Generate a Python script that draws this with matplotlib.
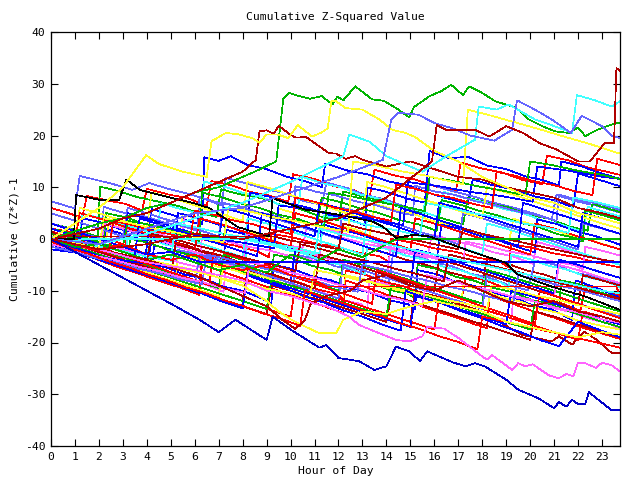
import matplotlib
matplotlib.use("Agg")
import matplotlib.pyplot as plt

# colour keys used by the series below
COLORS = {
    "R": "#ff0000", "G": "#00b400", "B": "#0000ff", "LB": "#6464ff",
    "M": "#ff64ff", "C": "#40ffff", "Y": "#ffff30", "DR": "#b00000",
    "K": "#000000", "DB": "#0000c8",
}

# each series: (colour key, hours, cumulative value)
series = [
    ("R", [0,0.6,1.3,1.5,2.4,3.1,3.8,4.0,4.9,5.7,6.5,6.7,7.6,8.3,9.1,9.9,10.1,11.0,11.8,12.6,13.3,13.5,14.4,15.2,16.1,16.9,17.1,18.0,18.8,19.7,20.5,20.7,21.6,22.4,23.1,23.75],
          [6,5.2,4.1,8.3,7.4,6.8,5.5,9.7,8.6,7.9,6.4,11.2,10.3,9.1,8.4,7.2,12.5,11.6,10.2,9.5,8.1,13.4,12.2,11.5,10.1,9.2,14.8,13.6,12.9,11.4,10.6,16.1,15.2,13.8,13.1,12.4]),
    ("B", [0,0.7,1.5,2.1,2.3,3.2,4.0,4.2,5.1,5.9,6.3,6.4,7.0,7.5,8.2,9.0,9.8,10.6,11.3,11.45,12.4,13.2,14.1,14.9,15.7,16.5,17.4,17.6,18.5,19.3,20.2,21.0,21.8,22.0,22.9,23.75],
          [0,-1.3,-2.8,-3.6,1.9,0.7,-0.4,5.8,4.6,3.2,2.8,15.8,15.1,16.0,14.3,13.5,12.1,11.2,10.0,14.6,13.2,12.5,11.1,10.4,9.0,7.9,6.8,11.5,10.3,9.6,8.2,7.5,6.1,12.7,11.4,10.2]),
    ("LB", [0,0.5,1.0,1.2,1.9,2.6,3.4,4.1,4.9,5.6,6.4,7.1,7.3,8.2,9.0,9.8,10.5,11.3,11.5,12.4,13.1,13.9,14.8,15.6,15.8,16.7,17.5,18.4,19.2,20.1,20.9,21.1,22.0,22.8,23.75],
           [7.3,6.6,5.9,12.2,11.4,10.6,9.5,10.8,9.7,8.9,7.8,6.5,11.8,10.7,9.6,8.8,7.4,6.6,10.9,9.8,8.5,7.7,6.2,5.4,10.6,9.3,8.4,7.1,6.2,5.0,3.8,8.5,7.2,6.4,5.1]),
    ("G", [0,0.8,1.6,1.95,2.05,2.8,3.6,4.5,5.3,6.1,6.9,7.1,8.0,8.8,9.6,10.4,11.2,12.0,12.2,13.1,13.9,14.7,15.6,16.4,17.2,17.4,18.3,19.1,19.9,20.8,21.6,22.4,22.6,23.75],
          [3,2.1,1.0,0.4,10.1,9.3,8.1,7.2,6.4,5.1,4.3,9.6,8.5,7.9,6.6,5.8,4.4,3.6,9.2,8.1,7.3,5.9,5.1,3.9,2.8,8.0,6.9,6.1,4.7,3.9,2.5,1.6,6.8,5.2]),
    ("M", [0,0.7,1.4,2.1,2.3,3.0,3.8,4.6,5.4,5.6,6.5,7.3,8.1,8.9,9.7,10.5,10.7,11.5,12.4,13.2,14.0,14.9,15.7,15.9,16.8,17.6,18.5,19.3,20.1,20.3,21.2,22.0,22.9,23.75],
          [2,1.1,0.2,-0.9,3.8,2.9,1.7,0.9,-0.3,4.6,3.5,2.6,1.2,0.4,-1.0,-1.8,3.1,2.0,0.8,-0.2,-1.5,-2.3,-3.7,0.9,-0.3,-1.2,-2.6,-3.4,-4.8,-0.6,-1.7,-2.9,-3.8,-5.0]),
    ("C", [0,0.6,1.2,1.3,2.1,2.9,3.7,4.4,4.6,5.4,6.2,6.4,7.2,8.0,8.8,9.5,10.3,10.5,11.3,12.1,12.9,13.7,14.5,15.3,16.2,16.4,17.2,18.0,18.9,19.7,20.5,21.3,22.2,22.4,23.2,23.75],
          [1,0.2,-0.7,4.9,4.0,2.8,2.0,0.8,6.9,5.8,4.9,11.1,10.2,8.9,8.1,6.7,5.9,12.0,10.8,10.0,8.6,7.8,6.4,5.6,4.2,9.1,8.0,7.2,5.8,5.0,3.6,2.8,1.4,6.2,5.1,4.4]),
    ("Y", [0,0.8,1.6,2.2,2.4,3.2,4.0,4.8,5.3,5.5,6.3,7.1,7.9,8.7,9.3,9.5,10.3,11.1,11.9,12.7,13.3,13.5,14.3,15.1,15.9,16.7,17.5,18.3,19.1,19.3,20.1,20.9,21.7,22.5,23.75],
          [0,-1.1,-2.3,-3.0,2.8,1.9,0.7,-0.2,-1.1,4.8,3.7,2.9,1.6,0.8,-0.4,5.9,4.8,4.0,2.7,1.9,0.6,6.8,5.7,4.9,3.5,2.7,1.3,0.5,-0.9,3.9,2.8,2.0,0.6,-0.2,-2.0]),
    ("B", [0,0.7,1.5,2.3,3.1,3.9,4.2,4.3,5.0,5.8,6.6,7.2,7.3,8.1,8.9,9.7,10.5,11.2,11.3,12.1,12.9,13.7,14.5,15.3,16.1,16.3,17.1,17.9,18.7,19.5,20.2,20.3,21.1,21.9,22.7,23.75],
          [-0.5,-1.5,-2.7,-3.6,-4.9,-5.8,-6.4,-1.2,-2.0,-3.2,-4.1,-5.2,1.8,0.9,-0.3,-1.2,-2.5,-3.6,2.9,1.8,0.9,-0.4,-1.3,-2.6,-3.8,2.8,1.9,0.6,-0.3,-1.6,-2.6,3.8,2.9,1.5,0.6,-1.1]),
    ("DR", [0,0.8,1.6,2.4,3.1,3.2,4.0,4.8,5.6,6.4,7.2,8.0,8.2,9.0,9.8,10.6,11.4,12.2,13.0,13.2,14.0,14.8,15.6,16.4,17.2,18.0,18.2,19.0,19.8,20.6,21.4,22.2,23.0,23.75],
           [1,-0.1,-1.3,-2.2,-3.4,1.9,1.0,-0.2,-1.1,-2.4,-3.3,-4.8,0.2,-0.7,-2.0,-2.8,-4.1,-5.0,-6.6,-1.8,-2.7,-4.0,-4.9,-6.2,-7.1,-8.7,-3.8,-4.7,-6.0,-6.9,-8.2,-9.1,-10.6,-11.8]),
    ("LB", [0,0.7,1.4,2.2,3.0,3.8,4.6,5.2,5.3,6.1,6.9,7.7,8.5,9.3,10.1,10.3,11.1,11.9,12.7,13.5,14.1,14.3,15.1,15.9,16.7,17.5,18.3,19.1,19.9,20.2,21.0,21.8,22.6,23.75],
           [0,-1.0,-1.9,-3.1,-4.0,-5.4,-6.2,-7.3,-2.1,-3.0,-4.3,-5.1,-6.5,-7.3,-8.8,-3.1,-3.9,-5.3,-6.1,-7.5,-8.4,-2.2,-3.0,-4.4,-5.2,-6.7,-7.5,-8.9,-9.9,-4.2,-4.9,-6.4,-7.2,-8.9]),
    ("R", [0,0.8,1.6,2.4,3.2,4.0,4.8,5.6,6.2,6.3,7.1,7.9,8.7,9.5,10.3,11.1,11.9,12.2,12.3,13.1,13.9,14.7,15.5,16.3,17.1,17.3,18.1,18.9,19.7,20.5,21.3,22.1,22.3,23.1,23.75],
          [0.5,-0.6,-1.8,-2.9,-3.9,-5.2,-6.1,-7.4,-8.5,-3.2,-3.9,-5.3,-6.1,-7.4,-8.3,-9.7,-10.6,-11.5,-6.1,-6.9,-8.3,-9.1,-10.5,-11.3,-12.8,-7.2,-7.9,-9.4,-10.2,-11.6,-12.4,-13.9,-9.1,-10.0,-11.0]),
    ("G", [0,0.8,1.6,2.4,3.2,3.3,4.1,4.9,5.7,6.5,7.3,8.1,8.9,9.2,9.3,10.1,10.9,11.7,12.5,13.3,14.1,14.9,15.2,15.3,16.1,16.9,17.7,18.5,19.3,20.1,20.9,21.2,21.3,22.1,22.9,23.75],
          [-0.5,-1.6,-2.4,-3.7,-4.8,0.1,-0.8,-2.1,-2.9,-4.3,-5.1,-6.6,-7.4,-8.5,-3.0,-3.8,-5.2,-6.0,-7.5,-8.3,-9.8,-10.6,-11.5,-5.0,-5.8,-7.3,-8.1,-9.5,-10.3,-11.8,-12.6,-13.5,-8.0,-8.8,-10.3,-11.4]),
    ("M", [0,0.8,1.6,2.4,3.2,4.0,4.8,5.6,6.4,7.2,7.3,8.1,8.9,9.7,10.5,11.3,12.1,12.9,13.2,13.3,14.1,14.9,15.7,16.5,17.3,18.1,18.9,19.2,19.3,20.1,20.9,21.7,22.5,23.3,23.75],
          [0,-1.1,-2.2,-3.4,-4.3,-5.7,-6.5,-7.9,-8.7,-10.2,-5.0,-5.8,-7.2,-8.0,-9.5,-10.3,-11.7,-12.5,-13.5,-8.0,-8.8,-10.3,-11.1,-12.5,-13.3,-14.8,-15.6,-16.5,-11.0,-11.8,-13.3,-14.1,-15.5,-16.3,-17.5]),
    ("B", [0,0.8,1.6,2.4,3.2,4.0,4.8,5.6,6.4,7.2,8.0,8.8,9.2,9.3,10.1,10.9,11.7,12.5,13.3,14.1,14.9,15.2,15.3,16.1,16.9,17.7,18.5,19.3,20.1,20.9,21.75,21.9,22.7,23.75],
          [1,-0.1,-1.2,-2.4,-3.3,-4.7,-5.5,-6.9,-7.7,-9.2,-10.0,-11.5,-12.5,-5.0,-5.8,-7.2,-8.0,-9.5,-10.3,-11.8,-12.6,-13.5,-6.0,-6.8,-8.3,-9.1,-10.5,-11.3,-12.8,-13.6,-15.6,-8.0,-9.3,-11.3]),
    ("Y", [0,0.8,1.6,2.4,3.2,4.0,4.8,5.2,5.3,6.1,6.9,7.7,8.5,9.3,10.1,10.9,11.7,12.2,12.3,13.1,13.9,14.7,15.5,16.3,17.1,17.2,18.0,18.8,19.6,20.4,21.2,22.0,22.8,23.75],
          [-1,-2.1,-3.3,-4.2,-5.5,-6.4,-7.8,-8.5,-3.0,-3.8,-5.3,-6.1,-7.5,-8.3,-9.8,-10.6,-12.0,-13.0,-7.0,-7.8,-9.3,-10.1,-11.5,-12.3,-13.8,-9.0,-9.8,-11.3,-12.1,-13.5,-14.3,-15.8,-16.6,-17.5]),
    ("DR", [0,1,2,3,4,5,6,7,8,8.2,9,10,11,12,13,14,15,15.2,16,17,18,18.55,19.65,20.9,21.2,21.75,22.25,22.75,23.4,23.75],
           [0,-1.5,-3,-4.5,-6,-7.5,-9,-10.5,-12,-6,-7,-8.5,-10,-11.5,-13,-14.5,-16,-10,-11,-12.5,-14,-15.6,-18.5,-19.8,-18.8,-20.4,-17.9,-19.4,-22,-22]),
    ("R", [0,0.9,1.8,2.7,3.1,3.2,4.1,5.0,5.9,6.8,7.7,8.6,9.1,9.2,10.1,11.0,11.9,12.8,13.7,14.1,14.2,15.1,16.0,16.9,17.8,18.7,19.1,19.2,20.1,21.0,21.9,22.8,23.75],
          [2,1.3,0.2,-0.5,-1.2,3.0,2.3,1.2,0.5,-0.6,-1.3,-2.4,-3.5,1.0,0.3,-0.8,-1.5,-2.6,-3.3,-4.4,0.0,-0.7,-1.8,-2.5,-3.6,-4.3,-5.5,-1.0,-1.7,-2.8,-3.5,-4.6,-5.5]),
    ("LB", [0,0.6,1.3,2.1,2.2,3.0,3.9,4.7,5.5,6.1,6.2,7.0,7.9,8.7,9.5,10.1,10.2,11.1,11.9,12.8,13.6,14.4,15.1,15.2,16.0,16.9,17.7,18.5,19.4,20.2,21.1,21.2,22.0,22.9,23.75],
           [3,2.2,1.1,0.1,6.2,5.1,4.4,3.2,2.5,1.6,8.1,7.0,6.3,5.1,4.4,3.1,10.2,9.1,8.4,7.2,6.5,5.3,4.6,10.3,9.2,8.5,7.3,6.6,5.4,4.7,3.5,8.6,7.5,6.8,5.6]),
    ("C", [0,0.7,1.5,2.3,3.1,3.2,4.0,4.8,5.6,6.4,7.2,8.1,8.2,9.0,9.8,10.6,11.4,12.2,13.1,13.2,14.0,14.8,15.6,16.4,17.2,18.0,18.8,19.1,19.2,20.0,20.8,21.6,22.4,23.2,23.75],
          [-0.5,-1.7,-2.5,-3.9,-4.7,1.1,0.2,-1.1,-1.9,-3.3,-4.1,-5.7,0.1,-0.8,-2.1,-2.9,-4.3,-5.1,-6.8,-1.0,-1.9,-3.2,-4.0,-5.4,-6.2,-7.6,-8.4,-9.4,-3.0,-3.9,-5.2,-6.0,-7.4,-8.2,-9.3]),
    ("B", [0,0.8,1.2,1.3,2.1,2.9,3.7,4.5,5.2,5.3,6.1,6.9,7.7,8.2,8.3,9.1,9.9,10.7,11.5,12.3,13.1,13.2,14.0,14.8,15.6,15.8,16.6,17.4,18.2,19.0,19.8,20.6,21.2,21.3,22.1,22.9,23.75],
          [0,-1.1,-1.6,4.0,3.2,1.9,1.1,-0.2,-1.0,5.0,4.1,2.9,2.0,0.9,9.0,8.2,6.9,6.1,4.8,4.0,2.7,10.0,9.1,7.9,7.0,17.0,15.6,15.9,14.2,13.5,12.1,11.3,10.3,15.0,14.1,12.8,11.6]),
    ("M", [0,0.9,1.8,2.7,3.6,4.5,5.4,6.2,6.3,7.2,8.1,9.0,9.9,10.8,11.2,11.3,12.2,13.1,14.0,14.9,15.8,16.7,17.2,17.3,18.2,19.1,20.0,20.9,21.8,22.2,22.3,23.2,23.75],
          [1,0.1,-0.9,-1.6,-2.7,-3.4,-4.6,-5.5,0.5,-0.3,-1.4,-2.1,-3.2,-3.9,-4.6,1.0,0.2,-0.9,-1.6,-2.8,-3.5,-4.6,-5.3,-0.5,-1.3,-2.4,-3.1,-4.3,-5.0,-5.8,-1.5,-2.5,-3.2]),
    ("G", [0,0.8,1.6,2.2,2.3,3.1,3.9,4.7,5.5,6.2,6.3,7.1,7.9,8.7,9.5,10.3,11.1,11.3,12.1,12.9,13.7,14.5,15.3,16.1,16.3,17.1,17.9,18.7,19.5,20.3,21.1,21.9,22.2,22.3,23.1,23.75],
          [2,1.1,0.0,-0.8,5.0,4.2,2.9,2.1,0.7,-0.4,9.0,8.1,6.9,6.0,4.7,3.9,2.5,8.0,7.1,5.9,5.0,3.7,2.9,1.6,7.5,6.6,5.4,4.5,3.2,2.4,1.0,0.2,-0.5,5.5,4.5,3.6]),
    ("R", [0,0.9,1.8,2.7,3.6,4.5,5.4,6.2,6.3,7.2,8.1,9.0,9.9,10.8,11.7,12.2,12.3,13.2,14.1,15.0,15.9,16.8,17.7,18.2,18.3,19.2,20.1,21.0,21.9,22.8,23.75],
          [-1,-2.5,-3.7,-5.3,-6.6,-8.1,-9.4,-10.8,-5.0,-6.4,-7.8,-9.2,-10.7,-12.0,-13.5,-14.3,-8.0,-9.4,-10.9,-12.2,-13.7,-15.0,-16.5,-17.2,-11.0,-12.4,-13.9,-15.2,-16.7,-18.0,-19.3]),
    ("DR", [0,1,2,3,4,5,6,7,8,9,9.2,10,11,12,13,14,14.2,15,16,17,18,19,20,20.2,21,22,23,23.75],
           [-1,-2.5,-4,-5.5,-7,-8.5,-10,-11.5,-13,-14.5,-9,-10,-11.5,-13,-14.5,-16,-11,-12,-13.5,-15,-16.5,-18,-19.5,-14,-15,-16.5,-18,-19]),
    ("LB", [0,1,2,3,3.2,4,5,6,7,7.2,8,9,10,11,12,12.2,13,14,15,16,17,17.2,18,19,20,21,22,22.2,23,23.75],
           [5,3.5,2,0.5,6,5,3.5,2,0.5,7,6,4.5,3,1.5,0,6,5,3.5,2,0.5,-1,5,4,2.5,1,-0.5,-2,3,2,1]),
    ("B", [0,1,2,3,4,4.2,5,6,7,8,9,10,10.2,11,12,13,14,15,15.2,16,17,18,19,20,21,21.2,22,23,23.75],
          [0,-1.5,-3,-4.5,-6,0,-1,-2.5,-4,-5.5,-7,-8.5,-2,-3,-4.5,-6,-7.5,-9,-2,-3,-4.5,-6,-7.5,-9,-10.5,-4,-5,-6.5,-7.5]),
    ("Y", [0,1,1.2,2,3,4,4.2,5,6,7,8,8.2,9,10,11,12,13,13.2,14,15,16,17,18,18.2,19,20,21,22,23,23.75],
          [2,0.5,6,5,3.5,2,9,8,6.5,5,3.5,11,10,8.5,7,5.5,4,11,10,8.5,7,5.5,4,10,9,7.5,6,4.5,3,2]),
    ("R", [0,1,2,3,4,5,6,7,8,9,10,10.2,11,12,13,14,15,16,16.2,17,18,19,20,21,22,22.2,23,23.75],
          [0,-1.5,-3,-4.5,-6,-7.5,-9,-10.5,-12,-13.5,-15,-9,-10,-11.5,-13,-14.5,-16,-17.5,-11,-12,-13.5,-15,-16.5,-18,-19.5,-14,-15,-16]),
    ("G", [0,1,2,3,4,5,6,7,7.2,8,9,10,11,12,12.2,13,14,15,16,17,18,18.2,19,20,21,22,23,23.75],
          [1,-0.5,-2,-3.5,-5,-6.5,-8,-9.5,-3,-4,-5.5,-7,-8.5,-10,-4,-5,-6.5,-8,-9.5,-11,-12.5,-6,-7,-8.5,-10,-11.5,-13,-14]),
    ("C", [0,1,2,3,4,4.2,5,6,7,8,8.2,9,10,11,12,13,13.2,14,15,16,17,18,18.2,19,20,21,22,23,23.75],
          [2,0.5,-1,-2.5,-4,2,1,-0.5,-2,-3.5,4,3,1.5,0,-1.5,-3,4,3,1.5,0,-1.5,-3,3,2,0.5,-1,-2.5,-4,-5]),
    ("B", [0,1,2,3,4,5,6,7,8,8.2,9,10,11,12,13,14,15,15.2,16,17,18,19,19.2,20,21,22,23,23.75],
          [-1,-2.5,-4,-5.5,-7,-8.5,-10,-11.5,-13,-7,-8,-9.5,-11,-12.5,-14,-15.5,-17,-11,-12,-13.5,-15,-16.5,-10,-11,-12.5,-14,-15.5,-16.5]),
    ("M", [0,1,2,2.2,3,4,5,6,7,8,8.2,9,10,11,12,13,14,14.2,15,16,17,18,19,20,21,21.2,22,23,23.75],
          [0.5,-1,-2.5,3,2,0.5,-1,-2.5,-4,-5.5,1,0,-1.5,-3,-4.5,-6,-7.5,-1,-2,-3.5,-5,-6.5,-8,-9.5,-11,-5,-6,-7.5,-8.5]),
    ("LB", [0,1,2,3,4,5,6,6.2,7,8,9,10,11,12,12.2,13,14,15,16,17,18,18.2,19,20,21,22,23,23.75],
           [0,-1.5,-3,-4.5,-6,-7.5,-9,-3,-4,-5.5,-7,-8.5,-10,-11.5,-5,-6,-7.5,-9,-10.5,-12,-13.5,-7,-8,-9.5,-11,-12.5,-14,-15]),
    ("Y", [0,1,2,3,4,5,6,7,7.2,8,9,10,11,12,13,14,14.2,15,16,17,18,19,20,20.2,21,22,23,23.75],
          [-0.5,-2,-3.5,-5,-6.5,-8,-9.5,-11,-5,-6,-7.5,-9,-10.5,-12,-13.5,-15,-9,-10,-11.5,-13,-14.5,-16,-17.5,-12,-13,-14.5,-16,-17]),
    ("R", [0,1,1.2,2,3,4,5,6,6.2,7,8,9,10,10.2,11,12,13,14,15,15.2,16,17,18,19,20,20.2,21,22,23,23.75],
          [1,-0.5,5,4,2.5,1,-0.5,-2,4,3,1.5,0,-1.5,5,4,2.5,1,-0.5,-2,4,3,1.5,0,-1.5,-3,3,2,0.5,-1,-2]),
    ("DR", [0,1,2,3,4,5,5.2,6,7,8,9,10,11,11.2,12,13,14,15,16,16.2,17,18,19,20,21,22,22.2,23,23.75],
           [0.5,-1,-2.5,-4,-5.5,-7,-1,-2,-3.5,-5,-6.5,-8,-9.5,-3,-4,-5.5,-7,-8.5,-10,-4,-5,-6.5,-8,-9.5,-11,-12.5,-7,-8,-9]),
    ("B", [0,1,2,3,3.2,4,5,6,7,7.2,8,9,10,11,11.2,12,13,14,15,16,16.2,17,18,19,20,21,22,22.2,23,23.75],
          [3,1.5,0,-1.5,5,4,2.5,1,-0.5,6,5,3.5,2,0.5,7,6,4.5,3,1.5,0,7,6,4.5,3,1.5,0,-1.5,5,4,3]),
    ("G", [0,1,2,3,4,5,6,7,8,9,9.2,10,11,12,13,14,14.2,15,16,17,18,19,20,20.2,21,22,23,23.75],
          [0,-1.5,-3,-4.5,-6,-7.5,-9,-10.5,-12,-13.5,-8,-9,-10.5,-12,-13.5,-15,-9,-10,-11.5,-13,-14.5,-16,-17.5,-12,-13,-14.5,-16,-17]),
    ("B", [0,1.3,2.6,3.9,4.1,5.4,6.7,8.0,9.3,9.5,10.8,12.1,13.4,14.7,14.9,16.2,17.5,18.8,20.1,20.3,21.6,22.9,23.75],
          [-2,-2.8,-3.9,-4.7,2.0,1.2,0.1,-0.7,-1.8,6.5,5.7,4.6,3.8,2.7,11.0,10.2,9.1,8.3,7.2,14.0,13.2,12.1,11.6]),
    ("R", [0,1.1,2.2,3.3,4.4,5.5,6.6,6.8,7.9,9.0,10.1,11.2,12.3,13.4,13.6,14.7,15.8,16.9,18.0,19.1,20.2,20.4,21.5,22.6,23.75],
          [1.5,-0.2,-1.9,-3.7,-5.4,-7.2,-8.9,-2.0,-3.7,-5.5,-7.2,-9.0,-10.7,-12.5,-6.0,-7.7,-9.5,-11.2,-13.0,-14.7,-16.5,-10.0,-11.7,-13.5,-15.3]),
    ("C", [0,1.0,2.0,3.0,4.0,5.0,5.2,6.2,7.2,8.2,9.2,10.2,11.2,11.4,12.4,13.4,14.4,15.4,15.6,16.6,17.6,18.6,19.6,20.6,21.6,21.8,22.8,23.75],
          [0.5,-0.4,-1.5,-2.3,-3.4,-4.2,3.0,2.1,1.0,0.2,-0.9,-1.7,-2.8,4.5,3.6,2.5,1.7,0.6,7.0,6.1,5.0,4.2,3.1,2.3,1.2,8.0,7.1,6.0]),
    ("Y", [0,0.9,1.8,2.7,3.6,4.5,5.4,6.3,7.2,8.1,9.0,9.9,10.8,11.0,11.9,12.8,13.7,14.6,15.5,16.4,17.3,18.2,18.4,19.3,20.2,21.1,22.0,22.9,23.75],
          [0,-0.9,-2.0,-2.8,-3.9,-4.7,-5.8,-6.6,-7.7,-8.5,-9.6,-10.4,-11.5,-6.0,-6.8,-7.9,-8.7,-9.8,-10.6,-11.7,-12.5,-13.6,-9.0,-9.8,-10.9,-11.7,-12.8,-13.6,-14.5]),
    ("B", [0,0.8,1.6,2.4,3.2,4.0,4.8,5.6,6.4,7.2,8.0,8.2,9.0,9.8,10.6,11.4,12.2,13.0,13.8,14.6,14.8,15.6,16.4,17.2,18.0,18.8,19.6,20.4,21.2,22.0,22.8,23.75],
          [0,-1.4,-2.6,-4.1,-5.3,-6.8,-8.0,-9.5,-10.7,-12.2,-13.4,-7.0,-8.4,-9.6,-11.1,-12.3,-13.8,-15.0,-16.5,-17.7,-10.0,-11.4,-12.6,-14.1,-15.3,-16.8,-18.0,-19.5,-20.7,-16.0,-17.4,-19.0]),
    ("G", [0,1.0,2.0,3.0,3.2,4.2,5.2,6.2,7.2,7.4,8.4,9.4,10.4,11.4,11.6,12.6,13.6,14.6,15.6,15.8,16.8,17.8,18.8,19.8,20.0,21.0,22.0,23.0,23.75],
          [1,0.2,-0.8,-1.6,3.5,2.7,1.7,0.9,-0.1,6.0,5.2,4.2,3.4,2.4,9.0,8.2,7.2,6.4,5.4,12.0,11.2,10.2,9.4,8.4,15.0,14.2,13.2,12.4,11.6]),
    ("M", [0,0.9,1.8,2.7,3.6,4.5,5.4,6.3,7.2,8.1,8.3,9.2,10.1,11.0,11.9,12.8,13.7,14.6,15.5,15.7,16.6,17.5,18.4,19.3,20.2,21.1,22.0,22.9,23.75],
          [-1,-2.0,-3.2,-4.1,-5.3,-6.2,-7.4,-8.3,-9.5,-10.4,-4.5,-5.4,-6.6,-7.5,-8.7,-9.6,-10.8,-11.7,-12.9,-7.0,-7.9,-9.1,-10.0,-11.2,-12.1,-13.3,-14.2,-15.4,-16.2]),
    ("R", [0,0.8,1.6,2.4,2.6,3.4,4.2,5.0,5.8,6.0,6.8,7.6,8.4,9.2,10.0,10.2,11.0,11.8,12.6,13.4,14.2,14.4,15.2,16.0,16.8,17.6,18.4,18.6,19.4,20.2,21.0,21.8,22.6,22.8,23.75],
          [0,-0.8,-1.9,-2.6,3.5,2.7,1.6,0.9,-0.2,5.5,4.7,3.6,2.9,1.8,1.0,8.0,7.2,6.1,5.4,4.3,3.5,10.5,9.7,8.6,7.9,6.8,6.0,13.0,12.2,11.1,10.4,9.3,8.5,15.5,14.3]),
    ("LB", [0,0.9,1.8,2.7,3.6,4.5,5.4,6.3,6.5,7.4,8.3,9.2,10.1,11.0,11.9,12.8,13.0,13.9,14.8,15.7,16.6,17.5,18.4,19.3,19.5,20.4,21.3,22.2,23.1,23.75],
           [-1.5,-2.4,-3.6,-4.5,-5.7,-6.6,-7.8,-8.7,-3.0,-3.9,-5.1,-6.0,-7.2,-8.1,-9.3,-10.2,-5.0,-5.9,-7.1,-8.0,-9.2,-10.1,-11.3,-12.2,-7.0,-7.9,-9.1,-10.0,-11.2,-12.0]),
    ("DR", [0,1.0,2.0,3.0,4.0,4.2,5.2,6.2,7.2,8.2,9.2,10.2,10.4,11.4,12.4,13.4,14.4,15.4,16.4,16.6,17.6,18.6,19.6,20.6,21.6,22.6,23.75],
           [0.5,-0.6,-1.9,-3.0,-4.3,1.0,-0.1,-1.4,-2.5,-3.8,-4.9,-6.2,-1.0,-2.1,-3.4,-4.5,-5.8,-6.9,-8.2,-3.0,-4.1,-5.4,-6.5,-7.8,-8.9,-10.2,-11.5]),
    ("B", [0,0.7,1.4,2.1,2.8,3.5,3.7,4.4,5.1,5.8,6.5,7.2,7.9,8.6,8.8,9.5,10.2,10.9,11.6,12.3,13.0,13.7,14.4,14.6,15.3,16.0,16.7,17.4,18.1,18.8,19.5,19.7,20.4,21.1,21.8,22.5,23.2,23.75],
          [2,1.0,-0.1,-1.1,-2.2,-3.2,4.0,3.0,1.9,0.9,-0.2,-1.2,-2.3,-3.3,5.0,4.0,2.9,1.9,0.8,-0.2,-1.3,-2.3,-3.4,6.0,5.0,3.9,2.9,1.8,0.8,-0.3,-1.3,7.0,6.0,4.9,3.9,2.8,1.8,1.0]),
    ("Y", [0,1.0,2.0,2.2,3.2,4.2,5.2,6.2,7.2,7.4,8.4,9.4,10.4,11.4,12.4,12.6,13.6,14.6,15.6,16.6,17.2,17.4,18.4,19.4,20.4,21.4,22.4,23.4,23.75],
          [0,-0.8,-1.9,4.0,3.2,2.1,1.3,0.2,-0.6,6.0,5.2,4.1,3.3,2.2,1.4,15.0,14.2,13.1,12.3,11.2,10.6,25.0,23.8,22.5,21.2,19.8,18.5,17.0,16.5]),
    ("R", [0,0.8,1.6,2.4,3.2,4.0,4.8,5.6,6.4,7.2,8.0,8.8,9.6,10.4,10.6,11.4,12.2,13.0,13.8,14.6,15.4,16.2,17.0,17.8,18.0,18.8,19.6,20.4,21.2,22.0,22.8,23.75],
          [-0.5,-1.8,-2.9,-4.3,-5.4,-6.8,-7.9,-9.3,-10.4,-11.8,-12.9,-14.3,-15.4,-16.8,-10.0,-11.3,-12.4,-13.8,-14.9,-16.3,-17.4,-18.8,-19.9,-21.3,-15.0,-15.8,-16.6,-17.5,-18.3,-19.2,-20.0,-21.0]),
    # flat stretches (stuck readings)
    ("DR", [0,0.4,9.3,10,11,12,12.2,13,14,15,16,17,17.2,18,19,20,21,22,23,23.75],
           [1.5,0.5,0.5,-0.3,-1,-2,3,2,1,0,-1,-2,2,1,0,-1,-2,-3,-4,-4.5]),
    ("R", [0,1,2,3,4,5,6,7,8,9,10,11,11.5,23.6,23.75],
          [0,-1,-2,-1,-3,-4,-3,-5,-6,-5,-7,-8,-9.2,-9.2,-11]),
    ("G", [0,1,2,3,4,5,6,7,8,9,10,11,12,13,14,14.4,23.75],
          [0,-1.5,-1,-2.5,-4,-3,-4.5,-6,-5,-6.5,-3,-4.5,-2,-3.5,-1,0,0]),
    ("B", [0,1,2,3,4,5,6.2,23.75],
          [0,-1,-2,-1.5,-3,-2.5,-4.4,-4.4]),
    ("C", [0,1,1.3,8,9,10,11,11.2,12,13,14,15,16,17,18,19,20,21,22,23,23.75],
          [0.5,-0.5,0,0,-1,-2,-3,2,1,0,-1,-2,-3,-4,-5,-6,-7,-8,-9,-10,-10.5]),
    # extreme traces
    ("K", [0,0.95,1.05,2,2.85,3.15,3.7,4.8,5.9,6.6,7.45,7.8,9.1,9.25,10.6,12,13.4,13.85,14.4,15.1,15.8,17.7,19,19.5,20.9,22.3,23.75],
          [0,0,8.5,7.6,7.6,11.5,9.5,8.2,7,6,3.4,2.3,0.5,7.9,5.7,4.7,3.4,2.4,0.2,0.8,0.5,-2.7,-4.6,-6.9,-9.2,-11.1,-13.7]),
    ("Y", [0,2,4,6,8,9,9.5,10,10.6,11.2,11.9,12.2,13,14,15,16,17,18,19,20,21,22,23,23.75],
          [0,-2,-4,-6,-9,-12,-14,-15.5,-16.9,-18.2,-18.2,-15.6,-14,-14.5,-13,-12,-13,-14,-16,-17,-18,-19,-18,-18.5]),
    ("DR", [0,2,4,6,7,8,9,9.65,10.2,10.6,10.85,11.5,12.5,13,14,15,16,17,18,19,20,21,22,23,23.75],
           [0,-2,-4,-7,-9,-11,-13,-15.6,-17.4,-15.6,-12.4,-11,-10,-8,-7,-9,-10,-8,-10,-12,-13,-12,-14,-15,-16]),
    ("M", [0,2,4,6,8,9,10,11,11.5,12.45,12.85,13.7,14.4,14.95,15.5,15.7,16.4,17,18,18.2,18.4,19.25,19.5,19.8,20.1,20.8,21.2,21.5,21.8,22,22.3,22.75,23,23.4,23.75],
          [0,-2,-4.5,-6,-8,-10,-11,-12.5,-13,-15,-16.6,-18.2,-19.5,-19.8,-18.8,-17,-17.3,-19.1,-22.7,-23.3,-22.4,-25.3,-24,-24.6,-24.2,-26.4,-26.9,-26.1,-26.5,-23.9,-24,-24.9,-23.9,-24.4,-25.6]),
    ("DB", [0,1,2,3,4,5,6.2,7,7.7,9,9.25,10,11.2,11.5,12,12.85,13.5,14,14.4,14.95,15.4,15.7,16.75,17.3,17.7,18.1,19,19.5,20,20.35,21,21.2,21.5,21.75,22,22.3,22.45,23.4,23.75],
           [0,-2.5,-5,-7.5,-10,-12.5,-15.6,-18,-15.6,-19.5,-15,-17.5,-21,-20.5,-23,-23.6,-25.3,-24.6,-20.8,-21.7,-23.6,-21.7,-23.8,-24.6,-24,-24.6,-27.2,-29.1,-30.1,-30.8,-32.7,-31.5,-32.4,-31.1,-31.9,-31.9,-29.6,-33.1,-33.1]),
    ("G", [0,1,2,3,4,5,6,7,8,8.5,9.4,9.7,9.95,10.3,10.8,11.3,11.75,11.95,12.2,12.7,13.4,13.9,14.5,14.95,15.15,15.8,16.3,16.7,17.2,17.45,17.9,18.55,19.4,19.95,20.5,21.05,21.6,22,22.3,22.85,23.4,23.75],
          [0,1.5,3,4,6,7,9,10,12,13,15,27.2,28.2,27.7,27.1,27.6,26,27.5,26.8,29.5,27,26.7,25,23.5,25.5,27.6,28.6,29.8,27.8,29.5,28.5,26.6,25.4,23.1,21.8,20.8,20.5,21.5,19.9,21.2,22.1,22.5]),
    ("DR", [0,1,2,3,4,5,6,7,8,8.55,8.7,9,9.3,9.5,9.95,10.2,10.65,11.2,11.6,11.9,12.3,12.7,13,14,15,16,17,18,19,20,21,22,23,23.75],
           [0,1,2,4,5,7,9,11,13,15.3,20.8,21,20.3,21.9,20.3,19.6,19.7,17.9,16.6,16.5,15.5,16,15.3,14,15,13.5,12,11.5,10,9,8,6,5,4]),
    ("Y", [0,1,2,3,3.97,4.5,5.5,6.5,6.7,7.3,7.85,8.4,8.7,9,9.45,9.9,10.3,10.9,11.3,11.55,11.7,11.9,12.3,13,13.7,14.25,14.8,15.2,16,17,18,19,20,21,22,23,23.75],
          [0,3,6,10,16.2,14.5,13,12,18.9,20.5,20.2,19.5,18.6,20.2,20.2,19.5,22,19.8,20.6,21.4,26.6,26.6,25.3,25,23.1,21.1,20.5,19.7,17,15,12,10,8,7,5,4,3]),
    ("C", [0,2,4,6,8,10,12.2,12.45,13.3,14,15.5,16.5,17.7,17.85,18.6,19.1,20.2,20.9,21.75,21.95,22.7,23.4,23.75],
          [0,-1,1,4,7,11,16,20.2,18.8,16,13,16,19.2,25.6,25,26,23.1,22,20.5,27.8,26.8,25.6,26.6]),
    ("LB", [0,2,4,6,8,10,12,13.85,14.2,14.5,15.35,16,16.75,17.5,18.5,19.25,19.45,20.2,20.9,21.7,22.15,23,23.4,23.75],
           [0,-1,2,5,6,9,12,15.3,23,24.4,24,22.4,21.4,20,19,21.1,26.8,25,23.1,20.5,23.8,21.8,19.9,19.5]),
    ("DR", [0,2,4,6,8,10,12,14,15.9,16.1,16.5,17.7,18.3,19,19.7,20.4,21.1,22,22.5,23.1,23.5,23.6,23.75],
           [0,-2,-1,1,0,2,4,8,15,22,21.1,21.1,19.8,21.8,20.5,18.5,17.3,15,15,18.5,18.5,33,32.5]),
]

fig = plt.figure(figsize=(6.4, 4.8), dpi=100)
ax = fig.add_axes([51 / 640, 34 / 480, 569 / 640, 414 / 480])

for key, hours, vals in series:
    n = min(len(hours), len(vals))
    ax.plot(hours[:n], vals[:n], color=COLORS[key], lw=0.5, antialiased=False)

font = {"family": "DejaVu Sans Mono", "size": 8.2}
ax.set_xlim(0, 23.75)
ax.set_ylim(-40, 40)
ax.set_xticks(range(0, 24))
ax.set_yticks(range(-40, 41, 10))
ax.set_xticklabels([str(h) for h in range(0, 24)], fontdict=font)
ax.set_yticklabels([str(v) for v in range(-40, 41, 10)], fontdict=font)
ax.tick_params(direction="in", length=5, width=0.8, top=True, right=True, pad=4)
for sp in ax.spines.values():
    sp.set_linewidth(0.9)

ax.set_title("Cumulative Z-Squared Value", fontdict=font, pad=9)
ax.set_xlabel("Hour of Day", fontdict=font, labelpad=3)
ax.set_ylabel("Cumulative (Z*Z)-1", fontdict=font, labelpad=4)

fig.savefig("out.png", dpi=100)
